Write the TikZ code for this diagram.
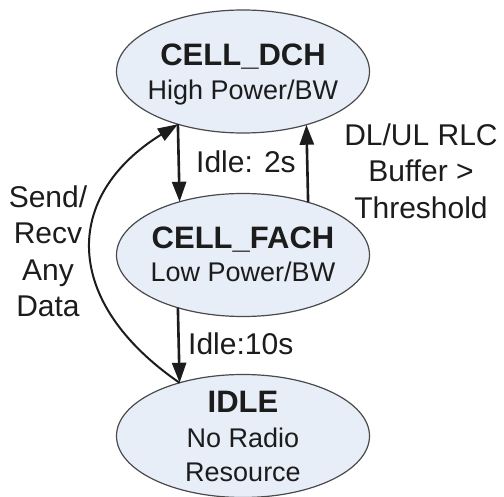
\documentclass[tikz,border=0pt]{standalone}
\usepackage{fontspec}
\setmainfont{Liberation Sans}
\usetikzlibrary{shapes.geometric,arrows.meta}
\definecolor{statefill}{HTML}{E7EEF8}
\definecolor{stateline}{HTML}{4A4A4A}
\definecolor{ink}{HTML}{1C1C1C}
\begin{document}
\begin{tikzpicture}[x=1pt,y=-1pt,
  state/.style={ellipse,draw=stateline,fill=statefill,line width=1.2pt,
    minimum width=253pt,minimum height=123pt,inner sep=0pt,outer sep=0pt},
  title/.style={anchor=base,inner sep=0pt,text=ink,font=\bfseries\fontsize{31}{37}\selectfont},
  sub/.style={anchor=base,inner sep=0pt,text=ink,font=\fontsize{27}{33}\selectfont},
  edgelabel/.style={inner sep=0pt,text=ink,align=center,font=\fontsize{30}{36.5}\selectfont},
  trans/.style={-{Triangle[length=20pt,width=14pt]},line width=2.6pt,draw=ink},
  curvetrans/.style={-{Triangle[length=20pt,width=14pt]},line width=2pt,draw=ink}]
\useasboundingbox (0,0) rectangle (504,497);

\node[state] (dch) at (243,71.5) {};
\node[state] (fach) at (243,255) {};
\node[state] (idle) at (243,436) {};

\node[title] (dcht) at (243,66) {CELL\_DCH};
\node[sub] (dchs) at (243,100) {High Power/BW};
\node[title] (facht) at (243,249) {CELL\_FACH};
\node[sub] (fachs) at (243,282) {Low Power/BW};
\node[title] (idlet) at (243,413) {IDLE};
\node[sub] (idles1) at (243,447) {No Radio};
\node[sub] (idles2) at (243,482) {Resource};

\draw[trans] (dch.219.1) -- (fach.140.9);
\draw[trans] (fach.39.1) -- (dch.320.9);
\draw[trans] (fach.219.1) -- (idle.140.9);
\draw[curvetrans] (idle.140.9) .. controls (62,302) and (62,196) .. (dch.219.1);

\node[edgelabel,anchor=base west] (l2s) at (196,173) {Idle: 2s};
\node[edgelabel,anchor=base west] (l10s) at (188,355) {Idle:10s};
\node[edgelabel] (lbuf) at (421,171) {DL/UL RLC\\Buffer >\\Threshold};
\node[edgelabel] (lsend) at (48,251.5) {Send/\\Recv\\Any\\Data};
\end{tikzpicture}
\end{document}
